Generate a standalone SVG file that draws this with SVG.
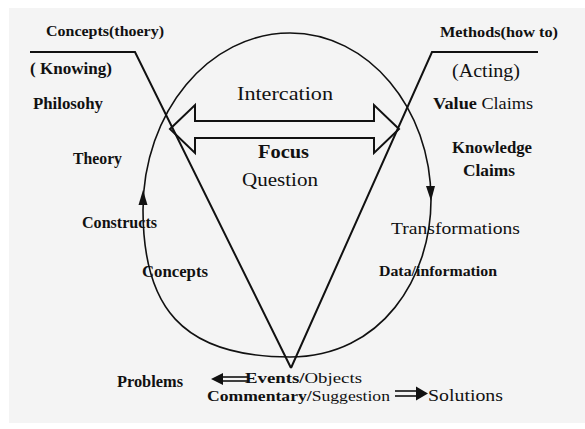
<svg xmlns="http://www.w3.org/2000/svg" width="585" height="429" viewBox="0 0 585 429">
  <style>
    text { font-family: "Liberation Serif", "Times New Roman", serif; fill: #111; }
    .b { font-weight: bold; }
    .line { fill: none; stroke: #111; stroke-width: 2; stroke-linejoin: miter; }
    .thin { fill: none; stroke: #111; stroke-width: 1.6; }
    .head { fill: #111; stroke: none; }
  </style>

  <!-- page -->
  <rect x="0" y="0" width="585" height="429" fill="#ffffff"/>
  <rect x="9" y="8" width="576" height="415" fill="#f4f4f4"/>

  <!-- connectors: the Vee, the cycle, the focus arrow and the bottom arrows -->
  <g id="connectors">
    <!-- left and right arms of the Vee -->
    <polyline class="line" points="30,52 135,52 291,368"/>
    <polyline class="line" points="538,52 432,52 291,368"/>

    <!-- the cycle round the Vee -->
    <path class="thin" d="M290,33 C209,33 143,112 143,210 C143,305 180,357 290,357 C382,357 431,277 431,200 C431,108 368,33 290,33 Z"/>
    <polygon class="head" points="143,190 138.5,205 147.5,205"/>
    <polygon class="head" points="431,201 426,186 435,186"/>

    <!-- two-headed hollow arrow across the Vee -->
    <polygon class="line" points="170,129 195,105 195,121 374,121 374,105 399,129 374,153 374,138 195,138 195,153"/>

    <!-- Events/Objects -> Problems -->
    <g id="arrow-problems">
      <line class="thin" x1="220" y1="377" x2="249" y2="377" stroke-width="1.5"/>
      <line class="thin" x1="220" y1="381" x2="249" y2="381" stroke-width="1.5"/>
      <polygon class="head" points="211,379 223,373 223,385"/>
    </g>
    <!-- Commentary/Suggestion -> Solutions -->
    <g id="arrow-solutions">
      <line class="thin" x1="395" y1="391" x2="418" y2="391" stroke-width="1.5"/>
      <line class="thin" x1="395" y1="396" x2="418" y2="396" stroke-width="1.5"/>
      <polygon class="head" points="428,393.5 416,386.5 416,400.5"/>
    </g>
  </g>

  <!-- left side: knowing -->
  <g id="concepts-theory"><text class="b" x="46" y="36" font-size="15" textLength="118" lengthAdjust="spacingAndGlyphs">Concepts(thoery)</text></g>
  <g id="knowing"><text class="b" x="30" y="74" font-size="16" textLength="82" lengthAdjust="spacingAndGlyphs">( Knowing)</text></g>
  <g id="philosophy"><text class="b" x="33" y="109" font-size="16" textLength="70" lengthAdjust="spacingAndGlyphs">Philosohy</text></g>
  <g id="theory"><text class="b" x="73" y="164" font-size="16" textLength="49" lengthAdjust="spacingAndGlyphs">Theory</text></g>
  <g id="constructs"><text class="b" x="82" y="228" font-size="16" textLength="75" lengthAdjust="spacingAndGlyphs">Constructs</text></g>
  <g id="concepts"><text class="b" x="142" y="277" font-size="16" textLength="66" lengthAdjust="spacingAndGlyphs">Concepts</text></g>

  <!-- right side: acting -->
  <g id="methods"><text class="b" x="440" y="37" font-size="15" textLength="118" lengthAdjust="spacingAndGlyphs">Methods(how to)</text></g>
  <g id="acting"><text x="452" y="77" font-size="18" textLength="68" lengthAdjust="spacingAndGlyphs">(Acting)</text></g>
  <g id="value-claims"><text x="433" y="109" font-size="17" textLength="100" lengthAdjust="spacingAndGlyphs"><tspan class="b">Value</tspan> Claims</text></g>
  <g id="knowledge-claims">
    <text class="b" x="452" y="153" font-size="16" textLength="80" lengthAdjust="spacingAndGlyphs">Knowledge</text>
    <text class="b" x="463" y="176" font-size="16" textLength="52" lengthAdjust="spacingAndGlyphs">Claims</text>
  </g>
  <g id="transformations"><text x="391" y="234" font-size="17" textLength="129" lengthAdjust="spacingAndGlyphs">Transformations</text></g>
  <g id="data-information"><text class="b" x="379" y="276" font-size="14" textLength="118" lengthAdjust="spacingAndGlyphs">Data/information</text></g>

  <!-- centre -->
  <g id="intercation"><text x="237" y="100" font-size="19" textLength="96" lengthAdjust="spacingAndGlyphs">Intercation</text></g>
  <g id="focus-question">
    <text class="b" x="258" y="158" font-size="19" textLength="51" lengthAdjust="spacingAndGlyphs">Focus</text>
    <text x="242" y="186" font-size="19" textLength="76" lengthAdjust="spacingAndGlyphs">Question</text>
  </g>

  <!-- bottom -->
  <g id="problems"><text class="b" x="117" y="387" font-size="16" textLength="66" lengthAdjust="spacingAndGlyphs">Problems</text></g>
  <g id="events-objects"><text x="245" y="383" font-size="15" textLength="117" lengthAdjust="spacingAndGlyphs"><tspan class="b">Events/</tspan>Objects</text></g>
  <g id="commentary-suggestion"><text x="207" y="401" font-size="15" textLength="183" lengthAdjust="spacingAndGlyphs"><tspan class="b">Commentary/</tspan>Suggestion</text></g>
  <g id="solutions"><text x="428" y="401" font-size="17" textLength="75" lengthAdjust="spacingAndGlyphs">Solutions</text></g>
</svg>
